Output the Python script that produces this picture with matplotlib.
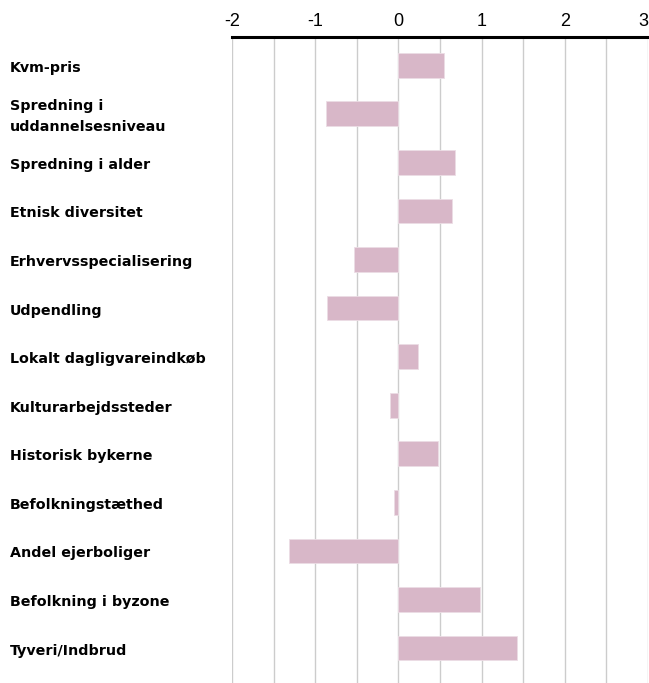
import matplotlib
matplotlib.use("Agg")
import matplotlib.pyplot as plt
import matplotlib.transforms as mtransforms
import numpy as np

categories = ["Kvm-pris", "Spredning i\nuddannelsesniveau", "Spredning i alder",
              "Etnisk diversitet", "Erhvervsspecialisering", "Udpendling",
              "Lokalt dagligvareindkøb", "Kulturarbejdssteder", "Historisk bykerne",
              "Befolkningstæthed", "Andel ejerboliger", "Befolkning i byzone",
              "Tyveri/Indbrud"]
values = [0.55, -0.87, 0.68, 0.65, -0.53, -0.86, 0.24, -0.10, 0.48, -0.05, -1.32, 0.98, 1.43]
xticks = [-2, -1, 0, 1, 2, 3]
xtick_labels = ["-2", "-1", "0", "1", "2", "3"]

plt.rcParams['font.family'] = ['DejaVu Sans']

fig = plt.figure(figsize=(6.49, 6.83), dpi=100)
ax = fig.add_axes([232/649, 0.0, 416/649, 1 - 37/683])

y = np.arange(len(categories))
ax.barh(y, values, height=0.51, color="#d8b7c8", edgecolor="#ecdde5", linewidth=0.6, zorder=3)

ax.set_xlim(-2, 3)
ax.set_ylim(12.72, -0.58)
for g in np.arange(-2, 3.01, 0.5):
    ax.axvline(g, color="#cccccc", linewidth=1.0, zorder=1)

ax.xaxis.tick_top()
ax.set_xticks(xticks)
ax.set_xticklabels(xtick_labels, fontsize=13, family=['Liberation Sans'])
ax.tick_params(axis='x', length=0, pad=5)
ax.get_xticklabels()[-1].set_horizontalalignment('right')
ax.set_yticks([])
for s in ["bottom", "left", "right"]:
    ax.spines[s].set_visible(False)
ax.spines["top"].set_linewidth(2.2)
ax.spines["top"].set_color("black")

trans = mtransforms.blended_transform_factory(fig.transFigure, ax.transData)
trans = mtransforms.offset_copy(trans, fig=fig, x=0, y=-2.5, units='dots')
for yi, lab in zip(y, categories):
    ax.text(10/649, yi, lab, transform=trans, ha="left", va="center",
            fontsize=10.3, fontweight="bold", linespacing=1.65, clip_on=False)

fig.savefig("out.png", dpi=100)
